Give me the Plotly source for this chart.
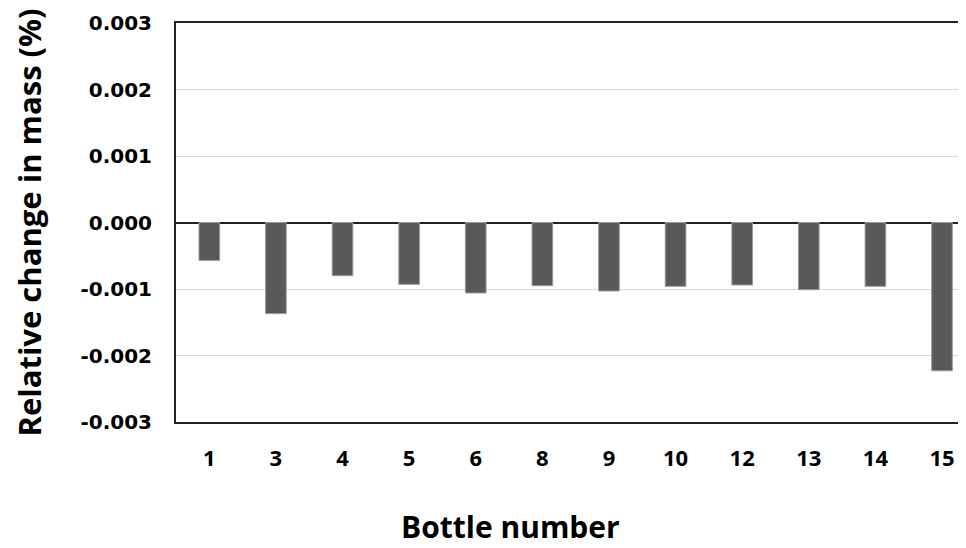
import plotly.graph_objects as go

bottles = ["1", "3", "4", "5", "6", "8", "9", "10", "12", "13", "14", "15"]
change = [-0.00057, -0.00137, -0.00080, -0.00093, -0.00106, -0.00095,
          -0.00103, -0.00096, -0.00094, -0.00101, -0.00096, -0.00223]

fig = go.Figure(go.Bar(
    x=bottles, y=change,
    marker=dict(color="#595959", line=dict(color="#9a9a9a", width=1)),
))

# the page body has an 8px margin, so the figure is 8px smaller than the window
fig.update_layout(
    width=958, height=540,
    margin=dict(l=168, r=0, t=15, b=126),
    plot_bgcolor="white", paper_bgcolor="white",
    bargap=0.69,
    showlegend=False,
    font=dict(family="DejaVu Sans", color="black"),
)

fig.update_xaxes(
    type="category",
    range=[-0.5, 11.36],
    showline=True, linecolor="#222", linewidth=2, mirror=True,
    showgrid=False,
    tickfont=dict(family="Open Sans", size=22, weight="bold"),
    ticklabelstandoff=16,
)

fig.update_yaxes(
    range=[-0.003, 0.003],
    tickvals=[-0.003, -0.002, -0.001, 0, 0.001, 0.002, 0.003],
    ticktext=["-0.003", "-0.002", "-0.001", "0.000", "0.001", "0.002", "0.003"],
    showline=True, linecolor="#222", linewidth=2,
    showgrid=True, gridcolor="#d9d9d9", gridwidth=1,
    zeroline=True, zerolinecolor="#222", zerolinewidth=2,
    tickfont=dict(family="DejaVu Sans", size=20, weight="bold"),
    ticklabelstandoff=18,
    title=dict(text="<b>Relative change in mass (%)</b>", font=dict(family="Open Sans", size=31),
               standoff=32),
)

# x title sits left of the plot centre in the original, so place it by hand
fig.add_annotation(
    text="<b>Bottle number</b>",
    xref="paper", yref="paper",
    x=0.424, y=-0.263,
    xanchor="center", yanchor="middle",
    showarrow=False,
    font=dict(family="Open Sans", size=30, color="black"),
)

fig.write_html("out.html")
